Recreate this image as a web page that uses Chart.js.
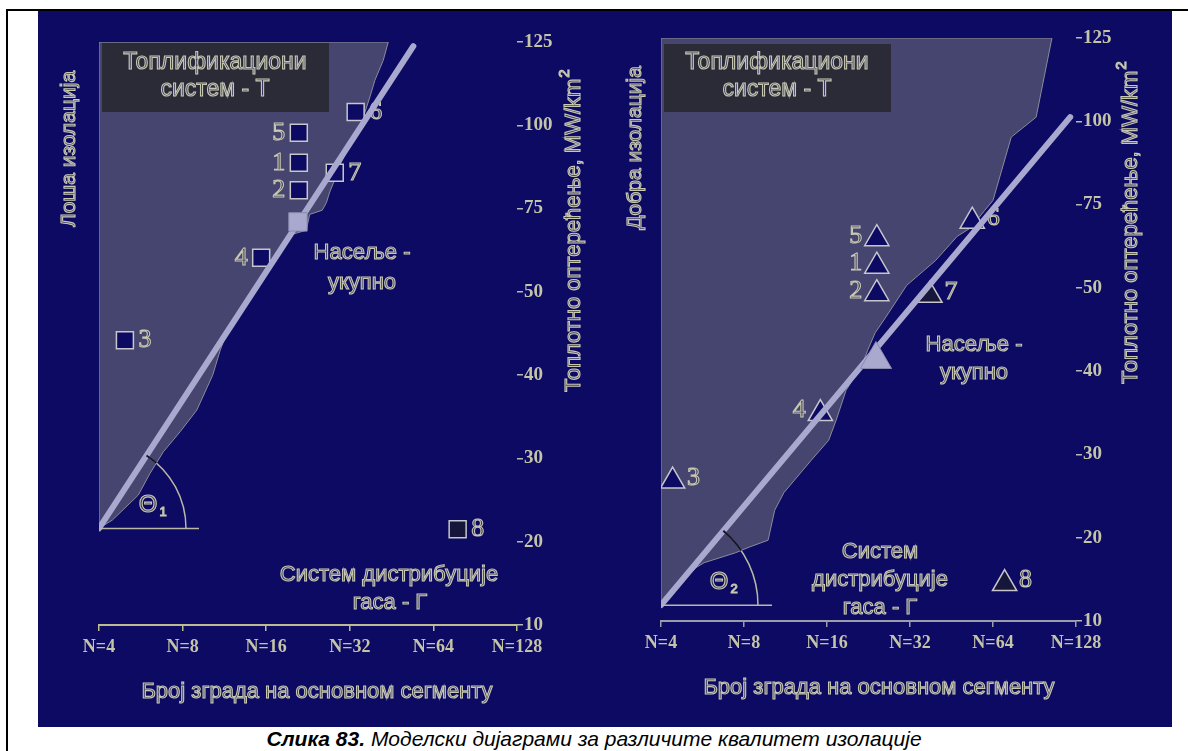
<!DOCTYPE html>
<html>
<head>
<meta charset="utf-8">
<script src="https://cdn.jsdelivr.net/npm/chart.js@4.4.0/dist/chart.umd.min.js"></script>
<style>
  body { margin: 0; width: 1188px; height: 751px; background: #fff; position: relative; overflow: hidden; }
  .frame { position: absolute; left: 6px; top: 9px; width: 1200px; height: 760px; border-left: 2px solid #000; border-top: 2px solid #000; }
  .panel { position: absolute; top: 11px; height: 716px; background: #0c0a62; }
  #leftPanel { left: 38px; width: 562px; }
  #rightPanel { left: 600px; width: 572px; }
  .caption { position: absolute; top: 727px; left: 0; width: 1188px; text-align: center; font: italic 21px "Liberation Sans", sans-serif; color: #000; }
</style>
</head>
<body>
<div class="frame"></div>
<div class="panel" id="leftPanel"><canvas id="leftChart" width="562" height="716"></canvas></div>
<div class="panel" id="rightPanel"><canvas id="rightChart" width="572" height="716"></canvas></div>
<div class="caption"><b>Слика 83.</b> Моделски дијаграми за различите квалитет изолације</div>
<script>
// axes are drawn with even steps: values below are in tick steps
const xTickLabels = ['N=4', 'N=8', 'N=16', 'N=32', 'N=64', 'N=128'];
const yTickLabels = ['10', '20', '30', '40', '50', '75', '100', '125'];
const pointNames = ['1', '2', '3', '4', '5', '6', '7', '8'];

// left diagram - poor insulation
const poorX = [2.39, 2.39, 0.31, 1.94, 2.39, 3.07, 2.82, 4.29];
const poorY = [5.55, 5.22, 3.42, 4.41, 5.91, 6.16, 5.43, 1.15];
const poorTotal = [2.38, 4.84];
const poorLineX = [0, 3.76];
const poorLineY = [1.16, 6.95];
const poorAreaX = [0, 3.46, 3.40, 3.30, 3.24, 3.15, 3.03, 2.88, 2.83, 2.76, 2.72, 2.67, 2.52, 2.48, 2.31, 2.25,
  2.05, 1.87, 1.69, 1.54, 1.45, 1.36, 1.17, 0.97, 0.77, 0.61, 0.47, 0.16, 0, 0];
const poorAreaY = [7.00, 7.00, 6.78, 6.54, 6.34, 6.06, 5.82, 5.52, 5.37, 5.20, 5.07, 4.98, 4.93, 4.74, 4.69, 4.62,
  4.29, 4.02, 3.76, 3.54, 3.30, 3.00, 2.58, 2.32, 2.08, 1.82, 1.56, 1.26, 1.16, 7.00];

// right diagram - good insulation
const goodX = [2.60, 2.60, 0.14, 1.92, 2.60, 3.75, 3.24, 4.14];
const goodY = [4.26, 3.93, 1.68, 2.49, 4.59, 4.80, 3.91, 0.45];
const goodTotal = [2.59, 3.14];
const goodLineX = [0, 4.93];
const goodLineY = [0.19, 6.05];
const goodAreaX = [0, 4.71, 4.52, 4.22, 4.00, 3.90, 3.73, 3.57, 3.31, 2.96, 2.71, 2.58, 2.49, 2.42, 2.23, 2.11,
  2.02, 1.81, 1.48, 1.37, 1.29, 1.07, 0.90, 0.52, 0.42, 0, 0];
const goodAreaY = [7.00, 7.00, 6.05, 5.81, 5.05, 4.93, 4.72, 4.62, 4.33, 4.03, 3.65, 3.46, 3.25, 3.07, 2.77, 2.41,
  2.17, 1.93, 1.54, 1.33, 0.97, 0.89, 0.82, 0.70, 0.64, 0.19, 7.00];

const navy = '#0c0a62';
const areaFill = '#46456f';
const lineColor = '#a9a9cf';
const textLight = '#c8c8b2';
const textDark = '#3a3a5c';
const tickText = '#c4c4a8';

function pts(xs, ys) {
  return xs.map((x, i) => ({ x: x, y: ys[i] }));
}

function outlined(ctx, text, x, y, size, family, align) {
  ctx.save();
  ctx.font = size + 'px ' + (family || '"Liberation Sans"');
  ctx.textAlign = align || 'center';
  ctx.textBaseline = 'middle';
  ctx.fillStyle = textDark;
  ctx.fillText(text, x, y);
  ctx.lineWidth = 1.1;
  ctx.strokeStyle = textLight;
  ctx.strokeText(text, x, y);
  ctx.restore();
}

function rotated(ctx, text, sup, x, y, size) {
  ctx.save();
  ctx.translate(x, y);
  ctx.rotate(-Math.PI / 2);
  ctx.font = size + 'px "Liberation Sans"';
  let w = ctx.measureText(text).width;
  let sw = sup ? ctx.measureText(sup).width * 0.7 : 0;
  let start = -(w + sw) / 2;
  outlined(ctx, text, start, 0, size, null, 'left');
  if (sup) outlined(ctx, sup, start + w + 1, -9, Math.round(size * 0.7), null, 'left');
  ctx.restore();
}

// annotation plugin, one per diagram
function decoPlugin(d) {
  return {
    id: 'deco',
    beforeDatasetDraw(chart, args) {
      // marker numbers go under the diagonal line
      if (args.index !== 1) return;
      const xs = chart.scales.x, ys = chart.scales.y;
      const ctx = chart.ctx;
      d.px.forEach((v, i) => {
        const px = xs.getPixelForValue(v);
        const py = ys.getPixelForValue(d.py[i]) + d.labelDy;
        const left = ['1', '2', '4', '5'].includes(pointNames[i]);
        outlined(ctx, pointNames[i], px + (left ? -d.labelDx : d.labelDx), py, 26, '"Liberation Serif"');
      });
    },
    afterDatasetsDraw(chart) {
      const ctx = chart.ctx;
      const xs = chart.scales.x, ys = chart.scales.y;

      // angle marker at the foot of the line
      const vx = xs.getPixelForValue(d.lineX[0]), vy = ys.getPixelForValue(d.lineY[0]);
      const ex = xs.getPixelForValue(d.lineX[1]), ey = ys.getPixelForValue(d.lineY[1]);
      const ang = Math.atan2(vy - ey, ex - vx);
      ctx.save();
      ctx.strokeStyle = '#b8b8a4';
      ctx.lineWidth = 1.5;
      ctx.beginPath();
      ctx.moveTo(vx, vy);
      ctx.lineTo(vx + d.hLen, vy);
      ctx.stroke();
      ctx.beginPath();
      ctx.arc(vx, vy, d.arcR, -ang, 0);
      ctx.stroke();
      // part of arc inside the shaded area is dark
      ctx.beginPath();
      d.areaX.forEach((x, i) => {
        const px = xs.getPixelForValue(x), py = ys.getPixelForValue(d.areaY[i]);
        if (i === 0) ctx.moveTo(px, py); else ctx.lineTo(px, py);
      });
      ctx.closePath();
      ctx.clip();
      ctx.strokeStyle = '#15152a';
      ctx.lineWidth = 2;
      ctx.beginPath();
      ctx.arc(vx, vy, d.arcR, -ang, 0);
      ctx.stroke();
      ctx.restore();

      outlined(ctx, 'Θ', d.theta[0], d.theta[1], 24);
      outlined(ctx, d.thetaSub, d.theta[0] + 15, d.theta[1] + 7, 13);

      // title box
      ctx.fillStyle = '#2b2b38';
      ctx.fillRect(d.box[0], d.box[1], d.box[2], d.box[3]);
      outlined(ctx, 'Топлификациони', 177, 52, 23);
      outlined(ctx, 'систем - Т', 177, 79, 23);

      d.texts.forEach(t => outlined(ctx, t[0], t[1], t[2], 22));

      rotated(ctx, d.sideTitle, null, d.sidePos[0], d.sidePos[1], 21);
      rotated(ctx, 'Топлотно оптерећење, MW/km', '2', d.yTitlePos[0], d.yTitlePos[1], 22);
    }
  };
}

function makeChart(canvasId, d) {
  const markerStyle = d.style;
  const markerFill = pointNames.map(n => (d.darkMarkers.includes(n) ? '#16163a' : navy));
  new Chart(document.getElementById(canvasId), {
    type: 'scatter',
    data: {
      datasets: [
        {
          // total settlement marker (on top)
          data: [{ x: d.total[0], y: d.total[1] }],
          pointStyle: markerStyle,
          pointRadius: d.totalR,
          backgroundColor: lineColor,
          borderColor: '#8a8ab0',
          borderWidth: 1,
          order: 1
        },
        {
          data: pts(d.lineX, d.lineY),
          showLine: true,
          borderColor: lineColor,
          borderWidth: 6,
          borderCapStyle: 'round',
          pointRadius: 0,
          order: 2
        },
        {
          data: pts(d.px, d.py),
          pointStyle: markerStyle,
          pointRadius: d.markerR,
          backgroundColor: markerFill,
          borderColor: '#c6c6cc',
          borderWidth: 1.5,
          order: 3
        },
        {
          data: pts(d.areaX, d.areaY),
          showLine: true,
          fill: 'shape',
          backgroundColor: areaFill,
          borderColor: '#8c8c9c',
          borderWidth: 1,
          pointRadius: 0,
          tension: 0,
          order: 4
        }
      ]
    },
    options: {
      responsive: false,
      animation: false,
      layout: { padding: { left: 61, top: d.top, right: 0, bottom: 0 } },
      plugins: { legend: { display: false }, tooltip: { enabled: false } },
      scales: {
        x: {
          type: 'linear',
          min: 0,
          max: 5,
          ticks: {
            stepSize: 1,
            autoSkip: false,
            maxRotation: 0,
            padding: 6,
            color: tickText,
            font: { family: '"Liberation Serif"', size: 18, weight: 'bold' },
            callback: v => xTickLabels[Math.round(v)]
          },
          grid: { drawOnChartArea: false, tickLength: 6, color: d.axisColor, lineWidth: 1.5 },
          border: { display: true, color: d.axisColor, width: 2 },
          afterFit: s => { s.height = d.xAxisH; }
        },
        y: {
          type: 'linear',
          position: 'right',
          min: 0,
          max: 7,
          ticks: {
            stepSize: 1,
            padding: 1,
            color: tickText,
            font: { family: '"Liberation Serif"', size: 19, weight: 'bold' },
            callback: v => yTickLabels[Math.round(v)]
          },
          grid: { drawOnChartArea: false, tickLength: 6, color: '#b8b8b8', lineWidth: 1.5 },
          border: { display: false },
          afterFit: s => { s.width = d.yAxisW; }
        }
      }
    },
    plugins: [decoPlugin(d)]
  });
}

makeChart('leftChart', {
  style: 'rect', markerR: 12, totalR: 13, darkMarkers: ['8'],
  px: poorX, py: poorY, total: poorTotal, lineX: poorLineX, lineY: poorLineY, areaX: poorAreaX, areaY: poorAreaY,
  top: 31, xAxisH: 102, yAxisW: 83, axisColor: '#bcbc90',
  labelDx: 20, labelDy: 0,
  hLen: 100, arcR: 87, theta: [110, 494], thetaSub: '1',
  box: [64, 32, 227, 69],
  texts: [['Насеље -', 324, 242], ['укупно', 324, 272], ['Систем дистрибуције', 351, 564], ['гаса - Г', 352, 592],
    ['Број зграда на основном сегменту', 279, 681]],
  sideTitle: 'Лоша изолација', sidePos: [31, 138], yTitlePos: [536, 220]
});

makeChart('rightChart', {
  style: 'triangle', markerR: 14, totalR: 18, darkMarkers: ['7', '8'],
  px: goodX, py: goodY, total: goodTotal, lineX: goodLineX, lineY: goodLineY, areaX: goodAreaX, areaY: goodAreaY,
  top: 27, xAxisH: 106, yAxisW: 96, axisColor: '#9c9cac',
  labelDx: 21, labelDy: -3,
  hLen: 111, arcR: 97, theta: [119, 571], thetaSub: '2',
  box: [64, 33, 227, 68],
  texts: [['Насеље -', 374, 334], ['укупно', 374, 362], ['Систем', 280, 541], ['дистрибуције', 280, 569],
    ['гаса - Г', 280, 597], ['Број зграда на основном сегменту', 279, 677]],
  sideTitle: 'Добра изолација', sidePos: [35, 137], yTitlePos: [531, 212]
});
</script>
</body>
</html>
